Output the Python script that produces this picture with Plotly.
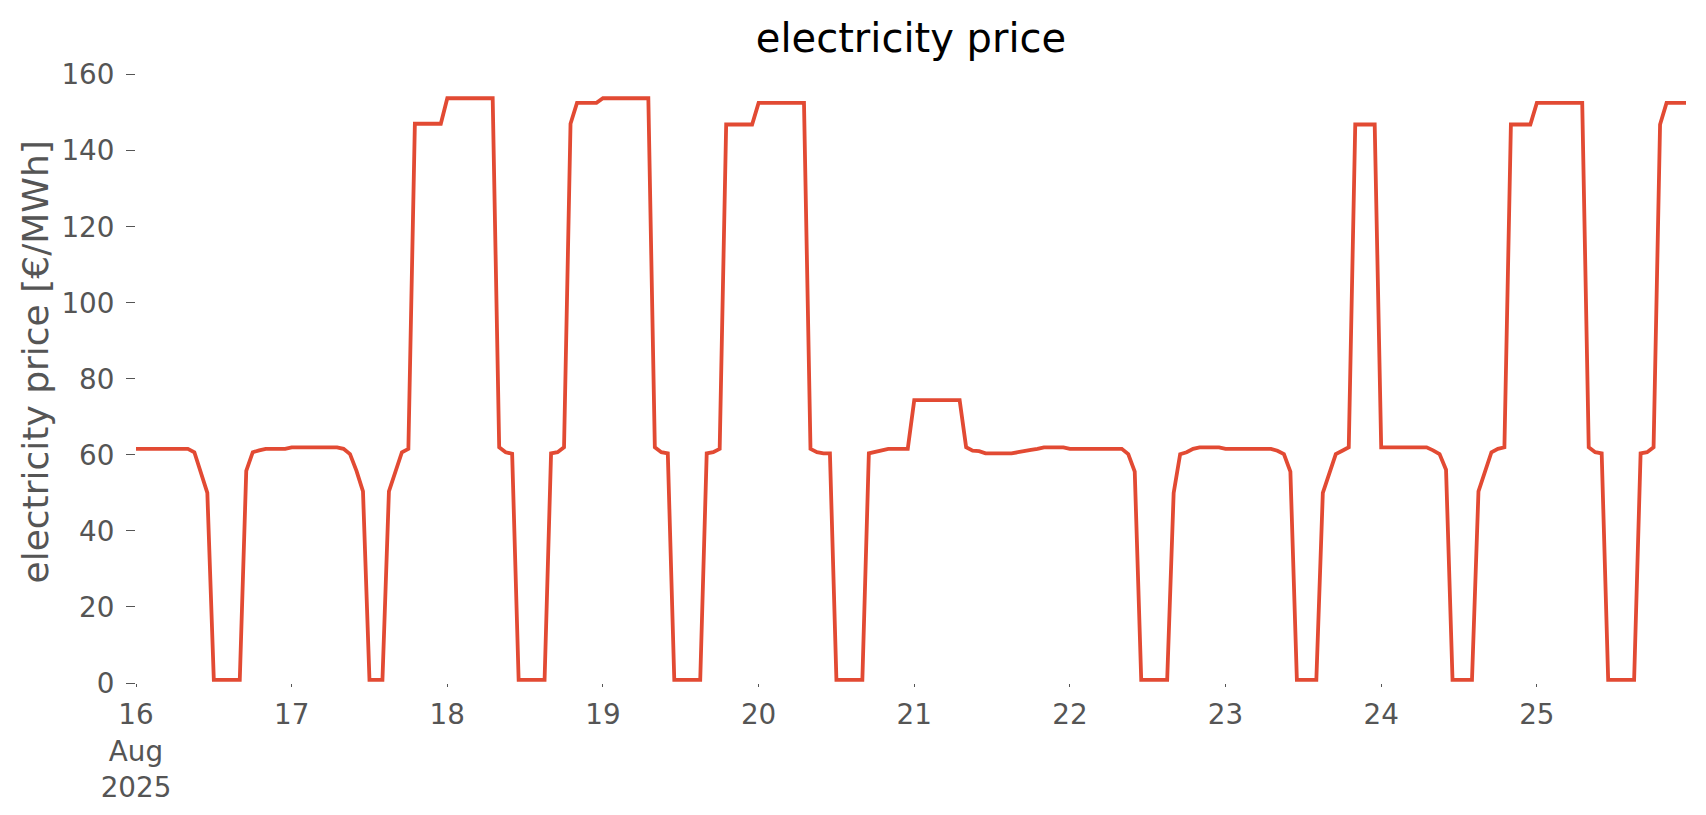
import pandas as pd
import plotly.graph_objects as go

# hourly electricity price [€/MWh], one list per day (16-25 Aug 2025)
day_16 = [61.6, 61.6, 61.6, 61.6, 61.6, 61.6, 61.6, 61.6, 61.6, 60.7, 55.3, 50.0,
          0.8, 0.8, 0.8, 0.8, 0.8, 55.8, 60.7, 61.2, 61.6, 61.6, 61.6, 61.6]
day_17 = [62.0, 62.0, 62.0, 62.0, 62.0, 62.0, 62.0, 62.0, 61.6, 60.2, 55.8, 50.4,
          0.8, 0.8, 0.8, 50.4, 55.8, 60.7, 61.6, 147.1, 147.1, 147.1, 147.1, 147.1]
day_18 = [153.8, 153.8, 153.8, 153.8, 153.8, 153.8, 153.8, 153.8, 62.0, 60.7, 60.3, 0.8,
          0.8, 0.8, 0.8, 0.8, 60.4, 60.7, 62.0, 147.1, 152.6, 152.6, 152.6, 152.6]
day_19 = [153.8, 153.8, 153.8, 153.8, 153.8, 153.8, 153.8, 153.8, 62.0, 60.7, 60.4, 0.8,
          0.8, 0.8, 0.8, 0.8, 60.4, 60.7, 61.6, 146.9, 146.9, 146.9, 146.9, 146.9]
day_20 = [152.6, 152.6, 152.6, 152.6, 152.6, 152.6, 152.6, 152.6, 61.6, 60.7, 60.4, 60.4,
          0.8, 0.8, 0.8, 0.8, 0.8, 60.4, 60.8, 61.2, 61.6, 61.6, 61.6, 61.6]
day_21 = [74.4, 74.4, 74.4, 74.4, 74.4, 74.4, 74.4, 74.4, 62.0, 61.1, 61.0, 60.4,
          60.4, 60.4, 60.4, 60.4, 60.7, 61.1, 61.3, 61.6, 62.0, 62.0, 62.0, 62.0]
day_22 = [61.6, 61.6, 61.6, 61.6, 61.6, 61.6, 61.6, 61.6, 61.6, 60.2, 55.6, 0.8,
          0.8, 0.8, 0.8, 0.8, 50.0, 60.2, 60.7, 61.6, 62.0, 62.0, 62.0, 62.0]
day_23 = [61.6, 61.6, 61.6, 61.6, 61.6, 61.6, 61.6, 61.6, 61.1, 60.2, 55.6, 0.8,
          0.8, 0.8, 0.8, 50.0, 55.3, 60.2, 61.1, 62.0, 146.9, 146.9, 146.9, 146.9]
day_24 = [62.0, 62.0, 62.0, 62.0, 62.0, 62.0, 62.0, 62.0, 61.2, 60.2, 56.1, 0.8,
          0.8, 0.8, 0.8, 50.4, 55.3, 60.7, 61.6, 62.0, 146.9, 146.9, 146.9, 146.9]
day_25 = [152.6, 152.6, 152.6, 152.6, 152.6, 152.6, 152.6, 152.6, 62.0, 60.7, 60.4, 0.8,
          0.8, 0.8, 0.8, 0.8, 60.4, 60.7, 62.0, 146.9, 152.6, 152.6, 152.6, 152.6]

days = [day_16, day_17, day_18, day_19, day_20, day_21, day_22, day_23, day_24, day_25]
price = [v for d in days for v in d]
start = "2025-08-16 00:00"
times = pd.date_range(start, periods=len(price), freq="h")

day_ticks = pd.date_range(start, periods=len(days), freq="D")
day_labels = ["16<br>Aug<br>2025", "17", "18", "19", "20", "21", "22", "23", "24", "25"]

y_ticks = [0, 20, 40, 60, 80, 100, 120, 140, 160]

FONT = "DejaVu Sans"
TICKC = "#555555"

# page body has an 8px margin -> figure is 8px smaller than the window
W, H = 1698, 807
ML, MR, MT, MB = 128, 20, 61, 132

fig = go.Figure()
fig.add_trace(go.Scatter(x=times, y=price, mode="lines",
                         line=dict(color="#E24A33", width=3.8),
                         showlegend=False, hoverinfo="x+y"))

x_range = [times[0], times[-1]]
plot_w = W - ML - MR
plot_h = H - MT - MB

fig.update_layout(
    width=W, height=H,
    paper_bgcolor="white", plot_bgcolor="white",
    margin=dict(l=ML, r=MR, t=MT, b=MB, autoexpand=False),
    title=dict(text="electricity price", x=(ML + plot_w / 2) / W, xanchor="center",
               y=1 - 30 / H, yref="container", yanchor="middle",
               font=dict(family=FONT, size=40, color="black")),
    xaxis=dict(range=x_range, tickmode="array", tickvals=day_ticks, ticktext=day_labels,
               ticks="outside", ticklen=3, tickwidth=1.3, tickcolor=TICKC,
               showgrid=False, zeroline=False, showline=False,
               tickfont=dict(family=FONT, size=27.8, color=TICKC),
               ticklabelstandoff=4),
    xaxis2=dict(range=x_range, overlaying="x", anchor="y", side="bottom",
                tickmode="array", tickvals=[times[0], times[-1]], ticktext=["", ""],
                ticks="outside", ticklen=10, tickwidth=1.3, tickcolor=TICKC,
                showgrid=False, zeroline=False, showline=False, showticklabels=False),
    yaxis=dict(range=[0, 161.5], tickmode="array", tickvals=y_ticks,
               ticks="outside", ticklen=9, tickwidth=1.3, tickcolor=TICKC,
               showgrid=False, zeroline=False, showline=False,
               tickfont=dict(family=FONT, size=27.8, color=TICKC),
               ticklabelstandoff=6),
    annotations=[dict(text="electricity price [€/MWh]", textangle=-90,
                      xref="paper", yref="paper",
                      x=(26.5 - ML) / plot_w, y=(H - MB - 354) / plot_h,
                      xanchor="center", yanchor="middle", showarrow=False,
                      font=dict(family=FONT, size=36, color=TICKC))],
)

fig.write_html("out.html")
